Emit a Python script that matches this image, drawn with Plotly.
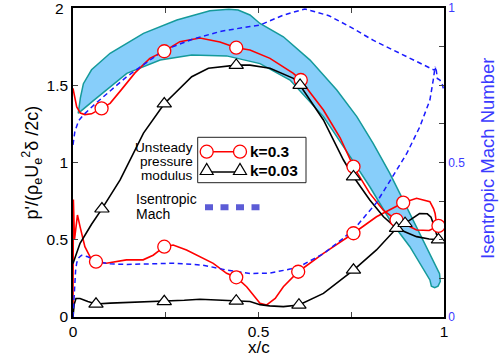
import plotly.graph_objects as go

# ---------------- data ----------------
# shaded band (closed outline: upper edge LE->TE, then lower edge TE->LE)
band_x = [0.014, 0.02, 0.028, 0.05, 0.1, 0.19, 0.28, 0.369, 0.42, 0.445, 0.477, 0.504,
          0.567, 0.639, 0.711, 0.765, 0.809, 0.854, 0.89, 0.935, 0.971, 0.988, 0.99,
          0.984, 0.975, 0.966, 0.962, 0.908, 0.854, 0.80, 0.747, 0.675, 0.585, 0.504,
          0.414, 0.32, 0.235, 0.145, 0.055, 0.025, 0.014]
band_y = [1.318, 1.42, 1.51, 1.6, 1.707, 1.836, 1.922, 1.982, 1.992, 1.987, 1.955, 1.90,
          1.814, 1.663, 1.469, 1.297, 1.124, 0.93, 0.757, 0.54, 0.369, 0.28, 0.23,
          0.2, 0.19, 0.2, 0.24, 0.455, 0.628, 0.843, 1.038, 1.297, 1.534, 1.64,
          1.69, 1.696, 1.663, 1.577, 1.40, 1.34, 1.318]

# k=0.3, suction side
red_ss_x = [0, 0.004, 0.01, 0.02, 0.032, 0.05, 0.077, 0.1, 0.13, 0.167, 0.207, 0.246,
            0.288, 0.342, 0.396, 0.44, 0.477, 0.531, 0.594, 0.614, 0.64, 0.675, 0.72,
            0.756, 0.8, 0.837, 0.872, 0.926, 0.96, 0.975, 0.99]
red_ss_y = [1.48, 1.42, 1.36, 1.32, 1.31, 1.315, 1.35, 1.383, 1.47, 1.58, 1.674, 1.72,
            1.782, 1.806, 1.78, 1.743, 1.728, 1.674, 1.577, 1.534, 1.45, 1.34, 1.16,
            0.973, 0.80, 0.69, 0.628, 0.563, 0.56, 0.575, 0.595]
# k=0.3, pressure side
red_ps_x = [0, 0.0005, 0.001, 0.004, 0.008, 0.012, 0.019, 0.032, 0.046, 0.062, 0.09,
            0.144, 0.189, 0.216, 0.246, 0.27, 0.306, 0.342, 0.378, 0.414, 0.44, 0.468,
            0.504, 0.522, 0.545, 0.567, 0.607, 0.675, 0.756, 0.818, 0.89, 0.926,
            0.962, 0.972, 0.976, 0.98, 0.99, 0.998]
red_ps_y = [0, 0.4, 0.76, 0.5, 0.6, 0.66, 0.585, 0.455, 0.39, 0.358, 0.348, 0.37,
            0.37, 0.40, 0.455, 0.466, 0.434, 0.39, 0.347, 0.283, 0.257, 0.196, 0.089,
            0.078, 0.12, 0.196, 0.293, 0.412, 0.542, 0.649, 0.74, 0.768, 0.746, 0.70,
            0.67, 0.6, 0.6, 0.6]
# k=0.03, suction side
blk_ss_x = [0, 0.019, 0.05, 0.078, 0.127, 0.19, 0.246, 0.32, 0.365, 0.44, 0.477, 0.531,
            0.594, 0.612, 0.675, 0.729, 0.756, 0.80, 0.837, 0.872, 0.926, 0.96, 0.985]
blk_ss_y = [0.347, 0.477, 0.6, 0.70, 0.887, 1.19, 1.38, 1.555, 1.61, 1.63, 1.63, 1.61,
            1.545, 1.50, 1.275, 1.016, 0.908, 0.757, 0.649, 0.574, 0.52, 0.505, 0.50]
# k=0.03, pressure side
blk_ps_x = [0, 0.003, 0.008, 0.019, 0.04, 0.062, 0.1, 0.144, 0.2, 0.246, 0.3, 0.342,
            0.4, 0.44, 0.477, 0.504, 0.53, 0.567, 0.609, 0.675, 0.756, 0.818, 0.872,
            0.895, 0.934, 0.955, 0.965, 0.974, 0.983]
blk_ps_y = [0, 0.08, 0.12, 0.12, 0.1, 0.084, 0.09, 0.093, 0.097, 0.10, 0.108, 0.115,
            0.11, 0.104, 0.10, 0.08, 0.072, 0.067, 0.078, 0.153, 0.304, 0.434, 0.574,
            0.606, 0.67, 0.668, 0.646, 0.585, 0.51]

# markers
circ_ss_x = [0.077, 0.246, 0.44, 0.614, 0.756, 0.872, 0.985]
circ_ss_y = [1.35, 1.72, 1.743, 1.534, 0.973, 0.628, 0.59]
circ_ps_x = [0.062, 0.246, 0.44, 0.607, 0.756, 0.89]
circ_ps_y = [0.358, 0.455, 0.257, 0.293, 0.542, 0.74]
tri_ss_x = [0.078, 0.246, 0.44, 0.612, 0.756, 0.872, 0.985]
tri_ss_y = [0.70, 1.38, 1.63, 1.50, 0.908, 0.574, 0.50]
tri_ps_x = [0.062, 0.246, 0.44, 0.609, 0.756, 0.895]
tri_ps_y = [0.084, 0.10, 0.104, 0.078, 0.304, 0.606]

# isentropic Mach number (right axis)
mach_ss_x = [0, 0.005, 0.015, 0.028, 0.06, 0.1, 0.145, 0.2, 0.246, 0.324, 0.4, 0.477,
             0.504, 0.567, 0.625, 0.69, 0.747, 0.81, 0.881, 0.93, 0.962, 0.972, 0.976,
             0.978, 0.982, 0.989, 0.996, 0.998]
mach_ss_y = [0.557, 0.6, 0.635, 0.654, 0.69, 0.73, 0.778, 0.825, 0.864, 0.9, 0.925, 0.94,
             0.945, 0.977, 0.997, 0.975, 0.939, 0.895, 0.853, 0.825, 0.805, 0.80, 0.80,
             0.81, 0.772, 0.767, 0.751, 0.74]
mach_ps_x = [0, 0.002, 0.004, 0.007, 0.01, 0.014, 0.023, 0.04, 0.064, 0.1, 0.144, 0.2,
             0.27, 0.35, 0.414, 0.477, 0.53, 0.585, 0.621, 0.675, 0.729, 0.765, 0.818,
             0.854, 0.9, 0.935, 0.962, 0.971, 0.976]
mach_ps_y = [0, 0.06, 0.098, 0.15, 0.175, 0.19, 0.2, 0.195, 0.179, 0.172, 0.17, 0.171,
             0.174, 0.168, 0.152, 0.141, 0.142, 0.155, 0.17, 0.205, 0.255, 0.295, 0.37,
             0.44, 0.53, 0.616, 0.702, 0.767, 0.81]

x_ticks = [0, 0.25, 0.5, 0.75, 1]
x_ticktext = ["0", "", "0.5", "", "1"]
y_ticks = [0, 0.5, 1, 1.5, 2]
y_ticktext = ["0", "0.5", "1", "1.5", ""]
y_top_label = "2"
y2_ticks = [0, 0.125, 0.25, 0.375, 0.5, 0.625, 0.75, 0.875, 1]
y2_ticktext = ["0", "", "", "", "0.5", "", "", "", "1"]

# ---------------- styling ----------------
FONT = "Liberation Sans, Arial, Helvetica, sans-serif"
RED = "#ff0000"
BLACK = "#000000"
BLUE = "#1a1aff"
LBLUE = "#3a3aff"
W, H = 499, 362
L, R, T, B = 73, 55, 8, 45
PW, PH = W - L - R, H - T - B


def px(x):
    return (x - L) / PW


def py(y):
    return (H - B - y) / PH


fig = go.Figure()

fig.add_trace(go.Scatter(x=band_x, y=band_y, mode="lines", fill="toself",
                         fillcolor="#87cefa", line=dict(color="#159a9a", width=1.5),
                         hoverinfo="skip", showlegend=False, cliponaxis=False))

for xs, ys, c in [(red_ss_x, red_ss_y, RED), (red_ps_x, red_ps_y, RED),
                  (blk_ss_x, blk_ss_y, BLACK), (blk_ps_x, blk_ps_y, BLACK)]:
    fig.add_trace(go.Scatter(x=xs, y=ys, mode="lines", line=dict(color=c, width=1.6),
                             showlegend=False))

for xs, ys in [(mach_ss_x, mach_ss_y), (mach_ps_x, mach_ps_y)]:
    fig.add_trace(go.Scatter(x=xs, y=ys, yaxis="y2", mode="lines",
                             line=dict(color=BLUE, width=1.5, dash="5px,3.5px"),
                             showlegend=False, cliponaxis=False))

for xs, ys in [(circ_ss_x, circ_ss_y), (circ_ps_x, circ_ps_y)]:
    fig.add_trace(go.Scatter(x=xs, y=ys, yaxis="y3", mode="markers",
                             marker=dict(symbol="circle", size=13, color="white",
                                         line=dict(color=RED, width=1.3)),
                             showlegend=False))
for xs, ys in [(tri_ss_x, tri_ss_y), (tri_ps_x, tri_ps_y)]:
    fig.add_trace(go.Scatter(x=xs, y=ys, yaxis="y3", mode="markers",
                             marker=dict(symbol="triangle-up", size=12.5, color="white",
                                         line=dict(color=BLACK, width=1.2)),
                             showlegend=False))

shapes = []
# legend box
shapes.append(dict(type="rect", xref="paper", yref="paper",
                   x0=px(197.7), x1=px(306), y0=py(182.7), y1=py(137.3),
                   line=dict(color="#222222", width=1), fillcolor="white", layer="above"))
# legend sample k=0.3
shapes.append(dict(type="line", xref="paper", yref="paper", x0=px(206.7), x1=px(240),
                   y0=py(151.7), y1=py(151.7), line=dict(color=RED, width=1.5), layer="above"))
for cx in (206.7, 240):
    shapes.append(dict(type="circle", xref="paper", yref="paper",
                       x0=px(cx - 6.5), x1=px(cx + 6.5), y0=py(151.7 + 6.5), y1=py(151.7 - 6.5),
                       line=dict(color=RED, width=1.3), fillcolor="white", layer="above"))
# legend sample k=0.03
shapes.append(dict(type="line", xref="paper", yref="paper", x0=px(206.7), x1=px(240),
                   y0=py(172), y1=py(172), line=dict(color=BLACK, width=1.5), layer="above"))
for cx in (206.7, 240):
    p = "M {:.5f} {:.5f} L {:.5f} {:.5f} L {:.5f} {:.5f} Z".format(
        px(cx - 6.5), py(174.5), px(cx + 6.5), py(174.5), px(cx), py(163.5))
    shapes.append(dict(type="path", xref="paper", yref="paper", path=p,
                       line=dict(color=BLACK, width=1.2), fillcolor="white", layer="above"))
# Isentropic Mach legend line
shapes.append(dict(type="line", xref="paper", yref="paper", x0=px(205), x1=px(262),
                   y0=py(207.3), y1=py(207.3),
                   line=dict(color="#5c5cd6", width=6, dash="8px,7.5px"), layer="above"))

ann = []


def text(t, x, y, size, xanchor="left", color="black", bold=False, angle=0):
    ann.append(dict(text=("<b>%s</b>" % t) if bold else t, xref="paper", yref="paper",
                    x=px(x), y=py(y), xanchor=xanchor, yanchor="middle", showarrow=False,
                    textangle=angle, font=dict(family=FONT, size=size, color=color)))


text("k=0.3", 248, 151.7, 15.5, bold=True)
text("k=0.03", 248, 170.5, 15.5, bold=True)
text("Unsteady", 195, 147, 13.6, xanchor="right")
text("pressure", 195, 161.5, 13.6, xanchor="right")
text("modulus", 195, 175.8, 13.6, xanchor="right")
text("Isentropic", 134, 199.3, 14.0)
text("Mach", 134, 213.7, 14.0)
text("x/c", 258.5, 347, 17, xanchor="center")
text("p'/(ρ<sub>e</sub>U<sub>e</sub><sup>2</sup>δ /2c)", 32, 162.5, 18, xanchor="center",
     angle=-90)
text("Isentropic Mach Number", 487, 158, 18.5, xanchor="center", color=LBLUE, angle=-90)
# top tick label of the left axis (plotly drops it at the figure edge)
ann.append(dict(text=y_top_label, xref="paper", yref="y", x=px(66), y=y_ticks[-1],
                xanchor="right", yanchor="middle", showarrow=False,
                font=dict(family=FONT, size=15.5, color="black")))

fig.update_layout(
    width=W, height=H, margin=dict(l=L, r=R, t=T, b=B, autoexpand=False),
    paper_bgcolor="white", plot_bgcolor="white", showlegend=False,
    font=dict(family=FONT, color="black"),
    xaxis=dict(range=[0, 1], tickvals=x_ticks, ticktext=x_ticktext, ticks="inside",
               ticklen=5, tickwidth=1, showline=True, linecolor="black", linewidth=1.5,
               mirror="ticks", showgrid=False, zeroline=False,
               tickfont=dict(size=15.5, family=FONT, color="black")),
    yaxis=dict(range=[0, 2], tickvals=y_ticks, ticktext=y_ticktext, ticks="inside",
               ticklen=5, tickwidth=1, showline=True, linecolor="black", linewidth=1.5,
               showgrid=False, zeroline=False,
               tickfont=dict(size=15.5, family=FONT, color="black")),
    yaxis2=dict(range=[0, 1], overlaying="y", side="right", tickvals=y2_ticks,
                ticktext=y2_ticktext, ticks="inside", ticklen=5, tickwidth=1,
                showline=True, linecolor="black", linewidth=1.5, showgrid=False,
                zeroline=False,
                tickfont=dict(size=12, family=FONT, color=LBLUE)),
    yaxis3=dict(range=[0, 2], overlaying="y", visible=False),
    shapes=shapes, annotations=ann,
)

fig.write_html("out.html")
